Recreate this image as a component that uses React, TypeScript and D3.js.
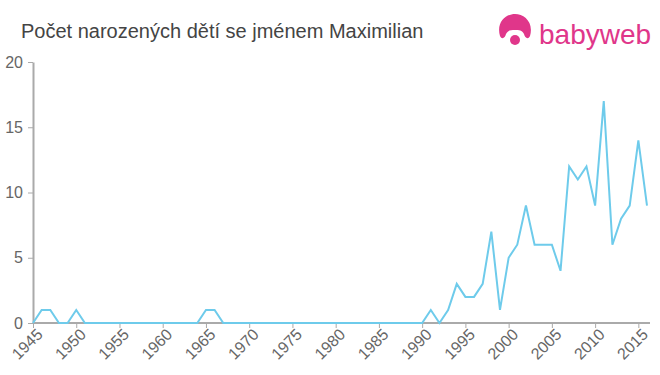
import React, { useEffect, useRef } from "react";
import * as d3 from "d3";

const years = d3.range(1945, 2017);
// births per year (years not listed are 0)
const nonZeroYears = [1946, 1947, 1950, 1965, 1966, 1991, 1993, 1994, 1995, 1996, 1997, 1998, 1999,
  2000, 2001, 2002, 2003, 2004, 2005, 2006, 2007, 2008, 2009, 2010, 2011, 2012, 2013, 2014, 2015, 2016];
const nonZeroCounts = [1, 1, 1, 1, 1, 1, 1, 3, 2, 2, 3, 7, 1,
  5, 6, 9, 6, 6, 6, 4, 12, 11, 12, 9, 17, 6, 8, 9, 14, 9];
const xTicks = d3.range(1945, 2016, 5);
const yTicks = [0, 5, 10, 15, 20];
const title = "Počet narozených dětí se jménem Maximilian";

const FONT = "Liberation Sans, Arial, sans-serif";

const App: React.FC = () => {
  const svgRef = useRef<SVGSVGElement | null>(null);

  useEffect(() => {
    if (!svgRef.current) return;
    const svg = d3.select(svgRef.current);
    svg.selectAll("*").remove();

    const x = d3.scaleLinear().domain([1945, 2016]).range([33, 647]);
    const y = d3.scaleLinear().domain([0, 20]).range([323, 62]);
    const data = years.map((yr) => {
      const i = nonZeroYears.indexOf(yr);
      return { yr, v: i >= 0 ? nonZeroCounts[i] : 0 };
    });

    svg.append("text")
      .attr("x", 21).attr("y", 38)
      .text(title)
      .style("font-family", FONT)
      .style("font-size", "20px")
      .style("fill", "#444");

    // logo
    const logo = svg.append("g").attr("fill", "#e0368a");
    logo.append("path")
      .attr("d", "M500,36 C496,22 506,14 515,14 C524,14 534,22 530,36 C528,40 525,38 524,34 C522,30 519,30 515,30 C511,30 508,30 506,34 C505,38 502,40 500,36 Z");
    logo.append("circle").attr("cx", 515).attr("cy", 40).attr("r", 5);
    logo.append("text")
      .attr("x", 539).attr("y", 44)
      .text("babyweb")
      .style("font-family", FONT)
      .style("font-size", "28px");

    const xAxis = svg.append("g")
      .attr("transform", `translate(0,${y(0)})`)
      .call(d3.axisBottom(x).tickValues(xTicks).tickFormat(d3.format("d")).tickSize(5).tickSizeOuter(0));
    xAxis.select(".domain").attr("stroke", "#aaa").attr("stroke-width", 2).attr("d", `M33,0H650`);
    xAxis.selectAll(".tick line").attr("stroke", "#aaa").attr("stroke-width", 1);
    xAxis.selectAll(".tick text")
      .attr("y", 4)
      .attr("transform", "rotate(-45)")
      .attr("text-anchor", "end")
      .attr("dx", "-0.1em").attr("dy", "0.75em")
      .style("font-family", FONT)
      .style("font-size", "16px")
      .style("fill", "#666");

    const yAxis = svg.append("g")
      .attr("transform", `translate(33,0)`)
      .call(d3.axisLeft(y).tickValues(yTicks).tickSize(5).tickSizeOuter(0));
    yAxis.select(".domain").attr("stroke", "#aaa").attr("stroke-width", 2);
    yAxis.selectAll(".tick line").attr("stroke", "#aaa");
    yAxis.selectAll(".tick text")
      .attr("x", -10)
      .style("font-family", FONT)
      .style("font-size", "16px")
      .style("fill", "#666");

    const line = d3.line<{ yr: number; v: number }>()
      .x((d) => x(d.yr))
      .y((d) => y(d.v));

    svg.append("path")
      .datum(data)
      .attr("d", line)
      .attr("fill", "none")
      .attr("stroke", "#6ecbeb")
      .attr("stroke-width", 2);
  }, []);

  return (
    <svg ref={svgRef} width={660} height={375} style={{ position: "absolute", left: 0, top: 0 }} />
  );
};

export default App;
